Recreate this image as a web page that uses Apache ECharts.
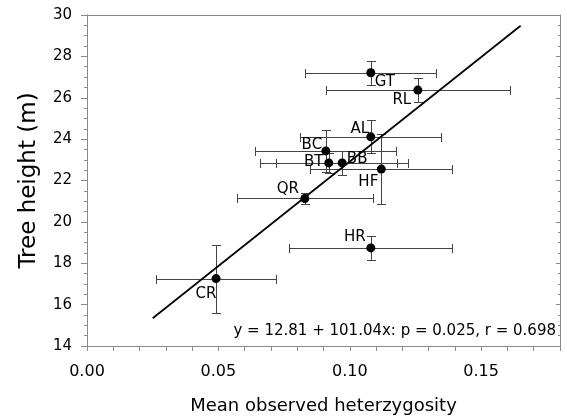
<!DOCTYPE html>
<html>
<head>
<meta charset="utf-8">
<script src="https://cdn.jsdelivr.net/npm/echarts@6/dist/echarts.min.js"></script>
<style>
html,body{margin:0;padding:0;background:#fff;}
#chart{width:567px;height:416px;}
</style>
</head>
<body>
<div id="chart"></div>
<script>
// ---- data ----
const sites = ['GT','RL','AL','BC','BT','BB','HF','QR','HR','CR'];
const heterozygosity = [0.108, 0.1259, 0.108, 0.0909, 0.0920, 0.0971, 0.1120, 0.0829, 0.108, 0.0491];
const heterozygosityErr = [0.0249, 0.0349, 0.0268, 0.0268, 0.026, 0.025, 0.027, 0.026, 0.031, 0.0229];
const treeHeight = [27.21, 26.37, 24.11, 23.43, 22.85, 22.85, 22.55, 21.13, 18.74, 17.26];
const treeHeightErr = [0.575, 0.57, 0.8, 1.01, 0.47, 0.59, 1.71, 0.28, 0.585, 1.645];
const fitX = [0.025, 0.165];
const fitY = [15.34, 29.48];
const xTickLabels = ['0.00', '0.05', '0.10', '0.15'];
const yTickLabels = ['14', '16', '18', '20', '22', '24', '26', '28', '30'];
const equationText = 'y = 12.81 + 101.04x: p = 0.025, r = 0.698';
const xTitle = 'Mean observed heterzygosity';
const yTitle = 'Tree height (m)';

// ---- styles ----
const FONT = 'DejaVu Sans';
const frameColor = '#8a8a8a';
const errColor = '#444';
const labelOffsets = {
  GT: [14, 9], RL: [-16, 10], AL: [-11, -8], BC: [-14, -6], BT: [-15, -1],
  BB: [15, -4], HF: [-13, 13], QR: [-17, -9], HR: [-16, -11], CR: [-10, 16]
};

const pointData = sites.map((n, i) => ({
  name: n,
  value: [heterozygosity[i], treeHeight[i]],
  label: { offset: labelOffsets[n] }
}));
const errData = sites.map((n, i) => [heterozygosity[i], treeHeight[i], heterozygosityErr[i], treeHeightErr[i]]);
const fitData = fitX.map((x, i) => [x, fitY[i]]);

const chart = echarts.init(document.getElementById('chart'), null, { renderer: 'canvas' });
const cap = 4.5;
const px = v => Math.round(v) + 0.5;

chart.setOption({
  animation: false,
  backgroundColor: '#fff',
  grid: { left: 87, right: 7, top: 15, bottom: 70, containLabel: false, outerBoundsMode: 'none' },
  xAxis: [{
    type: 'value', min: 0, max: 0.18, interval: 0.01, position: 'bottom',
    name: xTitle, nameLocation: 'middle', nameGap: 51,
    nameTextStyle: { fontFamily: FONT, fontSize: 18, color: '#000' },
    axisLine: { show: true, onZero: false, lineStyle: { color: frameColor, width: 1 } },
    axisTick: { show: true, inside: false, length: 5, lineStyle: { color: frameColor } },
    axisLabel: {
      fontFamily: FONT, fontSize: 16, color: '#000', margin: 18,
      formatter: v => {
        const k = Math.round(v * 100);
        return k % 5 === 0 ? xTickLabels[k / 5] || '' : '';
      }
    },
    splitLine: { show: false }
  }, {
    type: 'value', min: 0, max: 0.18, position: 'top',
    axisLine: { show: true, onZero: false, lineStyle: { color: frameColor, width: 1 } },
    axisTick: { show: false }, axisLabel: { show: false }, splitLine: { show: false }
  }],
  yAxis: [{
    type: 'value', min: 14, max: 30, interval: 2, position: 'left',
    name: yTitle, nameLocation: 'middle', nameGap: 46, nameRotate: 90,
    nameTextStyle: { fontFamily: FONT, fontSize: 23, color: '#000' },
    axisLine: { show: true, onZero: false, lineStyle: { color: frameColor, width: 1 } },
    axisTick: { show: true, inside: false, length: 6, lineStyle: { color: frameColor } },
    minorTick: { show: true, splitNumber: 4, length: 3, lineStyle: { color: frameColor } },
    axisLabel: {
      fontFamily: FONT, fontSize: 15, color: '#000', margin: 15,
      formatter: v => yTickLabels[Math.round((v - 14) / 2)] || ''
    },
    splitLine: { show: false }
  }, {
    type: 'value', min: 14, max: 30, interval: 2, position: 'right',
    axisLine: { show: true, onZero: false, lineStyle: { color: frameColor, width: 1 } },
    axisTick: { show: true, inside: true, length: 4, lineStyle: { color: frameColor } },
    minorTick: { show: true, splitNumber: 4, length: 2, lineStyle: { color: frameColor } },
    axisLabel: { show: false }, splitLine: { show: false }
  }],
  series: [{
    type: 'custom',
    xAxisIndex: 0, yAxisIndex: 0,
    data: errData,
    z: 1,
    renderItem: function (params, api) {
      const x = api.value(0), y = api.value(1), ex = api.value(2), ey = api.value(3);
      const c = api.coord([x, y]);
      const l = api.coord([x - ex, y]);
      const r = api.coord([x + ex, y]);
      const t = api.coord([x, y + ey]);
      const b = api.coord([x, y - ey]);
      const cy = px(c[1]), cx = px(c[0]);
      const st = { stroke: errColor, lineWidth: 1 };
      const line = (x1, y1, x2, y2) => ({ type: 'line', shape: { x1, y1, x2, y2 }, style: st });
      return {
        type: 'group',
        children: [
          line(px(l[0]), cy, px(r[0]), cy),
          line(px(l[0]), cy - cap, px(l[0]), cy + cap),
          line(px(r[0]), cy - cap, px(r[0]), cy + cap),
          line(cx, px(t[1]), cx, px(b[1])),
          line(cx - cap, px(t[1]), cx + cap, px(t[1])),
          line(cx - cap, px(b[1]), cx + cap, px(b[1]))
        ]
      };
    }
  }, {
    type: 'line',
    data: fitData,
    symbol: 'none',
    z: 2,
    lineStyle: { color: '#000', width: 1.7 }
  }, {
    type: 'scatter',
    data: pointData,
    symbol: 'circle',
    symbolSize: 9,
    z: 3,
    itemStyle: { color: '#000', opacity: 1 },
    label: {
      show: true, position: 'inside',
      formatter: p => p.name,
      fontFamily: FONT, fontSize: 15, color: '#000',
      align: 'center', verticalAlign: 'middle'
    }
  }],
  graphic: [{
    type: 'text',
    right: 567 - 556,
    top: 324,
    style: { text: equationText, fontFamily: FONT, fontSize: 15, fill: '#000' }
  }]
});
</script>
</body>
</html>
